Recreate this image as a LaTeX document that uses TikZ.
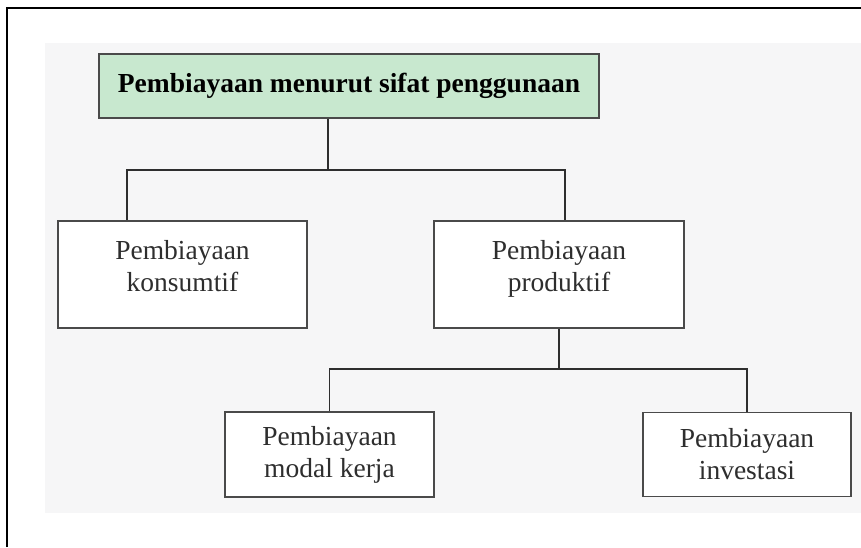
\documentclass[tikz,border=0pt]{standalone}
\usepackage{fontspec}
\setmainfont{Liberation Serif}
\definecolor{bgpaper}{HTML}{F6F6F7}
\definecolor{titlegreen}{HTML}{C8E8CF}
\definecolor{ink}{HTML}{2E2E2E}
\definecolor{boxline}{HTML}{4A4A4A}
\newcommand{\lowstrut}{\rule[-18pt]{0pt}{0pt}}
\begin{document}
\begin{tikzpicture}[x=1pt,y=-1pt,
  box/.style={draw=boxline,line width=1.8pt,fill=white,inner sep=0pt,align=center,
    text=ink,font=\fontsize{27.5}{32}\selectfont},
  titlebox/.style={box,fill=titlegreen,font=\fontsize{27.5}{30}\selectfont\bfseries,text=black},
  conn/.style={draw=ink,line width=1.6pt}]
\useasboundingbox (0,0) rectangle (861,547);
\fill[white] (0,0) rectangle (861,547);
\fill[bgpaper] (45,43) rectangle (861,513);
\draw[black,line width=2.2pt] (7,547) -- (7,8) -- (861,8);
\node[titlebox,minimum width=500pt,minimum height=64pt] (title) at (349,86) {Pembiayaan menurut sifat penggunaan};
\node[box,minimum width=249pt,minimum height=107pt] (kons) at (182.5,274.5) {Pembiayaan\\konsumtif\lowstrut};
\node[box,minimum width=250pt,minimum height=107pt] (prod) at (559,274.5) {Pembiayaan\\produktif\lowstrut};
\node[box,minimum width=209pt,minimum height=85pt] (modal) at (329.5,454.5) {Pembiayaan\\modal kerja};
\node[box,minimum width=208pt,minimum height=84pt] (inv) at (747,454.5) {Pembiayaan\\investasi};
\coordinate (j1) at (328,170);
\coordinate (k1) at (127,170);
\coordinate (p1) at (565,170);
\draw[conn] (title.south -| j1) -- (j1);
\draw[conn] (kons.north -| k1) -- (k1) -- (p1) -- (prod.north -| p1);
\coordinate (j2) at (559,369);
\draw[conn] (prod.south) -- (j2);
\draw[conn] (modal.north) |- (j2) -| (inv.north);
\end{tikzpicture}
\end{document}
